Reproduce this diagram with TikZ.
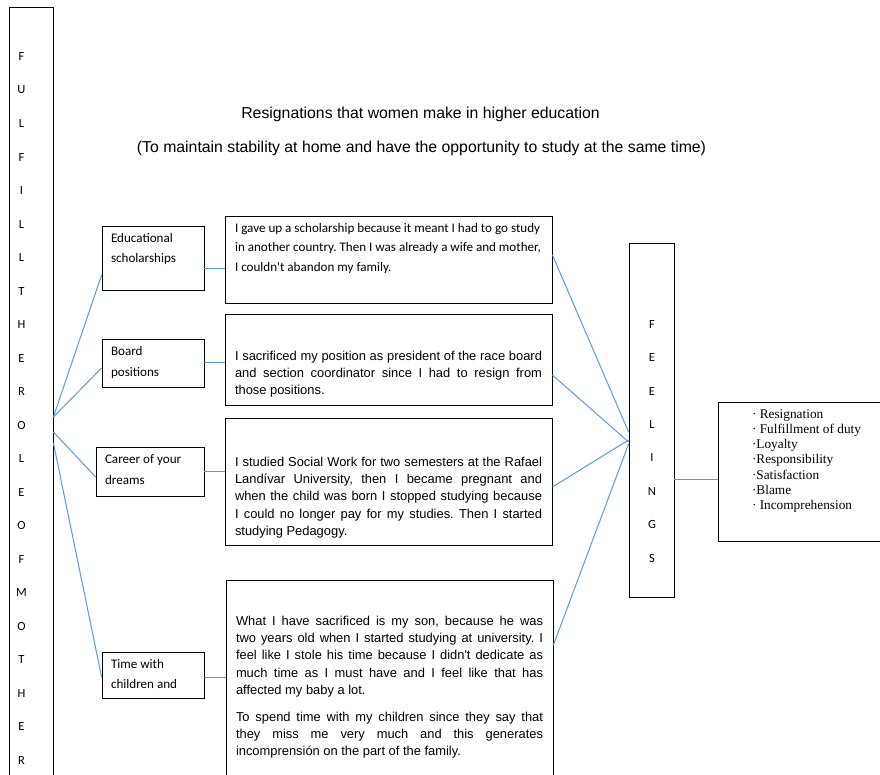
\documentclass[tikz,border=0pt]{standalone}
\usepackage{fontspec}
\setmainfont{Carlito}
\newfontfamily\arialfont{Liberation Sans}
\newfontfamily\timesfont{Liberation Serif}
\usepackage{tikz}
\usetikzlibrary{positioning}
\definecolor{linkblue}{RGB}{91,155,213}
\frenchspacing
% box text: height, width, top gap, font, text
\newcommand{\boxpar}[5]{\parbox[c][#1][t]{#2}{#4\vspace*{#3}\strut#5}}
\newcommand{\jline}[1]{\makebox[\linewidth][s]{#1}\\}
\newcommand{\calibfont}{\fontsize{13.1}{19.5}\selectfont}
\newcommand{\catfont}{\fontsize{13.1}{20.5}\selectfont}
\newcommand{\quotefont}{\arialfont\fontsize{12.9}{17.2}\selectfont}
\newcommand{\listfont}{\timesfont\fontsize{13.3}{15.3}\selectfont}

\begin{document}
\begin{tikzpicture}[x=1pt,y=-1pt]%
        \useasboundingbox (0,0) rectangle (880,775);
        \clip (0,0) rectangle (880,775);
        \begin{scope}
            \tikzstyle{every node}=[inner sep=0pt,font=\arialfont\fontsize{15.8}{19}\selectfont];%%
            \node (title) at (420.5,114) {Resignations that women make in higher education}; %%
            \node (subtitle) at (421.5,148) {(To maintain stability at home and have the opportunity to study at the same time)}; %%
        \end{scope}
        \begin{scope}
            \tikzstyle{every node}=[draw,line width=0.8pt,inner sep=0pt];%%
            \node[minimum width=44pt,minimum height=820pt] (mother) at (31,417) {}; %%
            \node[minimum width=45pt,minimum height=354pt] (feel) at (651.5,420) {}; %%
        \end{scope}
        \begin{scope}
            \tikzstyle{every node}=[inner sep=0pt,font=\fontsize{12.5}{14}\selectfont];%%
            \foreach \ch [count=\i] in {F,U,L,F,I,L,L,T,H,E,R,O,L,E,O,F,M,O,T,H,E,R}
                \node (m\i) at (21.5,{56.5+33.5*(\i-1)}) {\ch}; %%
            \foreach \ch [count=\i] in {F,E,E,L,I,N,G,S}
                \node (f\i) at (652,{324.3+33.4*(\i-1)}) {\ch}; %%
        \end{scope}
        \begin{scope}
            \tikzstyle{every node}=[draw,line width=0.8pt,inner xsep=9pt,inner ysep=0pt];%%
            \node (edu) at (153,258) {\boxpar{64pt}{84pt}{2pt}{\catfont}{Educational\\scholarships}}; %%
            \node (board) at (153,363) {\boxpar{48pt}{84pt}{2.5pt}{\catfont}{Board\\positions}}; %%
            \node (career) at (150,471.5) {\boxpar{49pt}{90pt}{2.5pt}{\catfont}{Career of your\\dreams}}; %%
            \node (time) at (153,675) {\boxpar{46pt}{84pt}{1.8pt}{\catfont}{Time with\\children and}}; %%
        \end{scope}
        \begin{scope}
            \tikzstyle{every node}=[draw,line width=0.8pt,inner xsep=10pt,inner ysep=0pt];%%
            \node (q1) at (388.5,259.5) {\boxpar{87pt}{307pt}{2.4pt}{\calibfont}{\raggedright I gave up a scholarship because it meant I had to go study\\ in another country. Then I was already a wife and mother,\\ I couldn\textquotesingle t abandon my family.}}; %%
            \node (q2) at (388.5,359.5) {\boxpar{91pt}{307pt}{34.5pt}{\quotefont}{\jline{I sacrificed my position as president of the race board}\jline{and section coordinator since I had to resign from}those positions.}}; %%
            \node (q3) at (388.5,481.5) {\boxpar{127pt}{307pt}{36.5pt}{\quotefont}{\jline{I studied Social Work for two semesters at the Rafael}\jline{Landívar University, then I became pregnant and}\jline{when the child was born I stopped studying because}\jline{I could no longer pay for my studies. Then I started}studying Pedagogy.}}; %%
            \node (q4) at (389.5,685) {\boxpar{210pt}{307pt}{33.5pt}{\quotefont}{\jline{What I have sacrificed is my son, because he was}\jline{two years old when I started studying at university. I}\jline{feel like I stole his time because I didn\textquotesingle t dedicate as}\jline{much time as I must have and I feel like that has}affected my baby a lot.\par\vspace{10pt}\jline{To spend time with my children since they say that}\jline{they miss me very much and this generates}incomprensión on the part of the family.}}; %%
        \end{scope}
        \begin{scope}
            \tikzstyle{every node}=[draw,line width=0.8pt,inner xsep=34pt,inner ysep=0pt];%%
            \node (traits) at (827,471.5) {\boxpar{139pt}{150pt}{5.3pt}{\listfont}{\raggedright\textperiodcentered{} Resignation\\ \textperiodcentered{} Fulfillment of duty\\ \textperiodcentered Loyalty\\ \textperiodcentered Responsibility\\ \textperiodcentered Satisfaction\\ \textperiodcentered Blame\\ \textperiodcentered{} Incomprehension}}; %%
        \end{scope}
        \begin{scope}[draw=linkblue,line width=1pt]
        \draw (mother.east)--([yshift=-17pt]edu.west); %%
        \draw (mother.east)--([yshift=-5pt]board.west); %%
        \draw ([yshift=-15pt]mother.east)--([yshift=-5.5pt]career.west); %%
        \draw ([yshift=-26pt]mother.east)--([yshift=-2pt]time.west); %%
        \draw ([yshift=-11pt]edu.east)--([yshift=-11pt]edu.east -| q1.west); %%
        \draw ([yshift=1pt]board.east)--([yshift=1pt]board.east -| q2.west); %%
        \draw (career.east)--(career.east -| q3.west); %%
        \draw ([yshift=-2pt]time.east)--([yshift=-2pt]time.east -| q4.west); %%
        \draw ([yshift=4.5pt]q1.east)--([yshift=-12pt]feel.west); %%
        \draw ([yshift=-15.5pt]q2.east)--([yshift=-22pt]feel.west); %%
        \draw ([yshift=-5.5pt]q3.east)--([yshift=-20pt]feel.west); %%
        \draw ([yshift=40pt]q4.east)--([yshift=-24pt]feel.west); %%
        \draw ([yshift=-59pt]feel.east)--([yshift=-59pt]feel.east -| traits.west); %%
        \end{scope}
        \end{tikzpicture}
\end{document}
